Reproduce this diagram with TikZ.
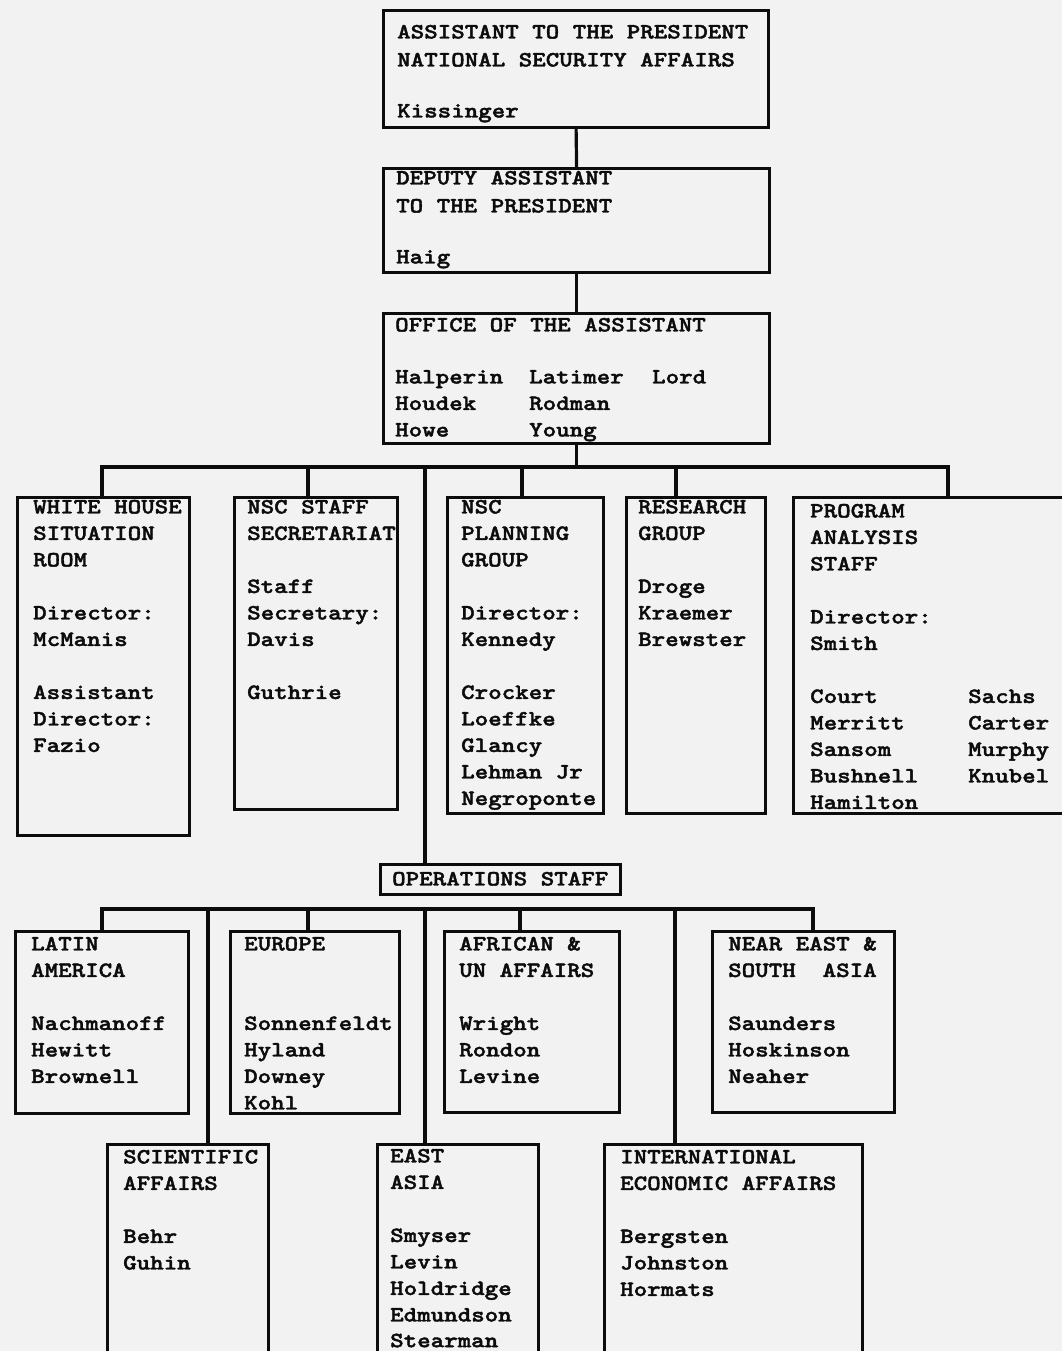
\documentclass[tikz,border=0pt]{standalone}
\usepackage{fontspec}
\newfontfamily\tw[FakeStretch=1.18,FakeBold=1.8]{lmmonolt10-bold.otf}
\definecolor{paper}{RGB}{242,242,242}
\definecolor{ink}{RGB}{12,12,12}
\tikzset{
  obox/.style={draw=ink, line width=3.2pt, inner sep=0pt, anchor=north west},
  txt/.style={anchor=north west, inner sep=0pt, align=left, yshift=13.3pt, text=ink,
    font=\tw\fontsize{21.8pt}{26.5pt}\selectfont},
  link/.style={draw=ink, line width=3.2pt, line join=miter},
}
\newcommand\mkbox[5]{\node[obox, minimum width=#4, minimum height=#5] (#1) at (#2,#3) {};}
\begin{document}
\begin{tikzpicture}[x=1pt,y=-1pt]
\useasboundingbox (0,0) rectangle (1062,1351);
\fill[paper] (0,0) rectangle (1062,1351);
\clip (0,0) rectangle (1062,1351);

% boxes
\mkbox{k}{382}{9}{385}{117}
\mkbox{h}{382}{167}{386}{104}
\mkbox{o}{382}{312}{386}{130}
\mkbox{wh}{16}{496}{172}{338}
\mkbox{ss}{233}{496}{163}{312}
\mkbox{pg}{446}{496}{156}{316}
\mkbox{rg}{625}{496}{139}{316}
\mkbox{pa}{792}{496}{278}{316}
\mkbox{ops}{379}{863}{240}{30}
\mkbox{la}{14}{930}{173}{182}
\mkbox{eu}{229}{930}{169}{182}
\mkbox{af}{443}{930}{175}{181}
\mkbox{ne}{711}{930}{182}{181}
\mkbox{sci}{106}{1143}{161}{217}
\mkbox{ea}{376}{1143}{161}{217}
\mkbox{ie}{603}{1143}{258}{217}

% texts
\node[txt] (tk) at (397,38) {ASSISTANT TO THE PRESIDENT\\[1.5pt]NATIONAL SECURITY AFFAIRS\\[24.5pt]Kissinger};
\node[txt] (th) at (396,184) {DEPUTY ASSISTANT\\[1.5pt]TO THE PRESIDENT\\[24.5pt]Haig};
\node[txt] (to) at (395,331) {OFFICE OF THE ASSISTANT\\[25.5pt]\makebox[134pt][l]{Halperin}\makebox[123pt][l]{Latimer}Lord\\\makebox[134pt][l]{Houdek}Rodman\\\makebox[134pt][l]{Howe}Young};
\node[txt] (twh) at (33,513) {WHITE HOUSE\\SITUATION\\ROOM\\[26.5pt]Director:\\McManis\\[26.5pt]Assistant\\Director:\\Fazio};
\node[txt] (tss) at (247,513) {NSC STAFF\\SECRETARIAT\\[26.5pt]Staff\\Secretary:\\Davis\\[26.5pt]Guthrie};
\node[txt] (tpg) at (461,513) {NSC\\PLANNING\\GROUP\\[26.5pt]Director:\\Kennedy\\[26.5pt]Crocker\\Loeffke\\Glancy\\Lehman Jr\\Negroponte};
\node[txt] (trg) at (638,513) {RESEARCH\\GROUP\\[26.5pt]Droge\\Kraemer\\Brewster};
\node[txt] (tpa) at (810,517) {PROGRAM\\ANALYSIS\\STAFF\\[26.5pt]Director:\\Smith\\[26.5pt]\makebox[158pt][l]{Court}Sachs\\\makebox[158pt][l]{Merritt}Carter\\\makebox[158pt][l]{Sansom}Murphy\\\makebox[158pt][l]{Bushnell}Knubel\\Hamilton};
\node[txt] (tops) at (392,885) {OPERATIONS STAFF};
\node[txt] (tla) at (31,950) {LATIN\\AMERICA\\[26.5pt]Nachmanoff\\Hewitt\\Brownell};
\node[txt] (teu) at (244,950) {EUROPE\\[53pt]Sonnenfeldt\\Hyland\\Downey\\Kohl};
\node[txt] (taf) at (459,950) {AFRICAN \&\\UN AFFAIRS\\[26.5pt]Wright\\Rondon\\Levine};
\node[txt] (tne) at (728,950) {NEAR EAST \&\\\makebox[94.5pt][l]{SOUTH}ASIA\\[26.5pt]Saunders\\Hoskinson\\Neaher};
\node[txt] (tsci) at (123,1163) {SCIENTIFIC\\AFFAIRS\\[26.5pt]Behr\\Guhin};
\node[txt] (tea) at (390,1162) {EAST\\ASIA\\[26.5pt]Smyser\\Levin\\Holdridge\\Edmundson\\[-0.8pt]Stearman};
\node[txt] (tie) at (620,1163) {INTERNATIONAL\\ECONOMIC AFFAIRS\\[26.5pt]Bergsten\\Johnston\\Hormats};

% connectors: top chain
\draw[link] (k.south) -- (h.north);
\draw[link] (h.south) -- (o.north);
\coordinate (b1l) at (102,467);
\coordinate (b1r) at (948,467);
\coordinate (b1b) at (308,467);
\coordinate (b1c) at (425,467);
\coordinate (b1d) at (522,467);
\coordinate (b1e) at (676,467);
\draw[link] (o.south) -- (o.south |- b1l);
\draw[link] (wh.north -| b1l) -- (b1l) -- (b1r) -- (pa.north -| b1r);
\draw[link] (b1b) -- (b1b |- ss.north);
\draw[link] (b1c) -- (b1c |- ops.north);
\draw[link] (b1d) -- (b1d |- pg.north);
\draw[link] (b1e) -- (b1e |- rg.north);

% operations bar
\coordinate (b2l) at (102,909);
\coordinate (b2r) at (813,909);
\coordinate (b2a) at (208,909);
\coordinate (b2b) at (308,909);
\coordinate (b2c) at (425,909);
\coordinate (b2d) at (520,909);
\coordinate (b2e) at (675,909);
\draw[link] (la.north -| b2l) -- (b2l) -- (b2r) -- (ne.north -| b2r);
\draw[link] (b2a) -- (b2a |- sci.north);
\draw[link] (b2b) -- (b2b |- eu.north);
\draw[link] (b2c) -- (b2c |- ea.north);
\draw[link] (b2d) -- (b2d |- af.north);
\draw[link] (b2e) -- (b2e |- ie.north);
\end{tikzpicture}
\end{document}
